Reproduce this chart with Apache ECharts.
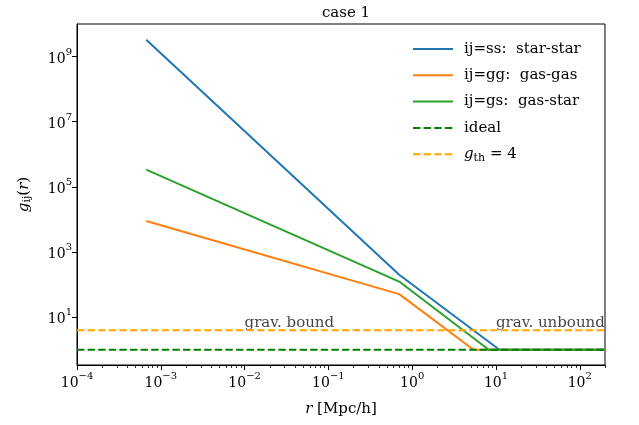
<!DOCTYPE html>
<html><head><meta charset="utf-8">
<script src="https://cdn.jsdelivr.net/npm/echarts@6/dist/echarts.min.js"></script>
<style>html,body{margin:0;padding:0;background:#fff}#c{width:639px;height:425px}</style>
</head><body><div id="c"></div>
<script>
// ---- data ----
const r_ss = [6.7e-4, 0.7, 11, 200];
const g_ss = [3.3e9, 200, 1, 1];
const r_gg = [6.7e-4, 0.7, 5.4, 200];
const g_gg = [9000, 51, 1, 1];
const r_gs = [6.7e-4, 0.7, 8.2, 200];
const g_gs = [3.4e5, 124, 1, 1];
const r_line = [1e-4, 200];
const g_ideal = [1, 1];
const g_th = [4, 4];
const xMajorTicks = [1e-4, 1e-3, 1e-2, 1e-1, 1, 10, 100];
const yMajorTicks = [10, 1e3, 1e5, 1e7, 1e9];
const seriesNames = ['ij=ss:  star-star', 'ij=gg:  gas-gas', 'ij=gs:  gas-star', 'ideal', 'g_th = 4'];
const annotations = [{x: 0.01, y: 4, text: 'grav. bound'}, {x: 10, y: 4, text: 'grav. unbound'}];

const xMinorTicks = [];
for (let d = -4; d <= 2; d++) for (let k = 2; k <= 9; k++) { const v = k * Math.pow(10, d); if (v <= 200) xMinorTicks.push(v); }

const zip = (xs, ys) => xs.map((x, i) => [x, ys[i]]);
const FONT = 'DejaVu Serif';
const FS = 15;
const supFmt = v => { const e = Math.round(Math.log10(v)); return '{b|10}{s|' + (e < 0 ? '\u2212' + (-e) : e) + '}'; };
const supRich = { b: { fontSize: 14, fontFamily: FONT, color: '#000', lineHeight: 19, verticalAlign: 'bottom' }, s: { fontSize: 10, fontFamily: FONT, color: '#000', lineHeight: 19, verticalAlign: 'top' } };

const chart = echarts.init(document.getElementById('c'), null, { renderer: 'canvas' });
const lw = 2;
const dash = [7.4, 3.2];
chart.setOption({
  animation: false,
  backgroundColor: '#fff',
  title: { text: 'case 1', left: 341, top: 1, textAlign: 'center', textStyle: { fontFamily: FONT, fontSize: FS, fontWeight: 'normal', color: '#000' } },
  grid: { left: 77, right: 34, top: 24, bottom: 60, show: true, borderColor: '#000', borderWidth: 1, backgroundColor: 'transparent' },
  legend: {
    orient: 'vertical', left: 412, top: 40, padding: 0, itemWidth: 40, itemHeight: 14, itemGap: 8.3,
    itemStyle: { opacity: 0 },
    textStyle: { fontFamily: FONT, fontSize: FS, color: '#000', lineHeight: 18, padding: [0, 0, 0, 6],
      rich: { i: { fontFamily: FONT, fontStyle: 'italic', fontSize: FS }, sub: { fontFamily: FONT, fontSize: 11, verticalAlign: 'bottom', padding: [6, 0, 0, 0] }, n: { fontFamily: FONT, fontSize: FS } } },
    formatter: n => n === 'g_th = 4' ? '{i|g}{sub|th}{n| = 4}' : n,
    data: seriesNames
  },
  xAxis: [{
    type: 'log', min: 1e-4, max: 200, logBase: 10,
    name: '{i|r} [Mpc/h]', nameLocation: 'middle', nameGap: 37,
    nameTextStyle: { fontFamily: FONT, fontSize: FS, color: '#000', rich: { i: { fontStyle: 'italic', fontFamily: FONT, fontSize: FS }, n: { fontFamily: FONT, fontSize: FS } } },
    axisLine: { show: true, lineStyle: { color: '#000', width: 1 } },
    axisTick: { show: true, length: 5, lineStyle: { color: '#000', width: 1 }, customValues: xMajorTicks },
    axisLabel: { customValues: xMajorTicks, formatter: supFmt, rich: supRich, margin: 6 },
    splitLine: { show: false }, minorTick: { show: false }
  }, {
    type: 'log', min: 1e-4, max: 200, position: 'bottom', gridIndex: 0,
    axisLine: { show: false },
    axisTick: { show: true, length: 3, lineStyle: { color: '#000', width: 0.8 }, customValues: xMinorTicks },
    axisLabel: { show: false }, splitLine: { show: false }
  }],
  yAxis: {
    type: 'log', min: 0.34, max: 1e10,
    name: '{i|g}{sub|ij}{n|(}{i|r}{n|)}', nameLocation: 'middle', nameGap: 44,
    nameTextStyle: { fontFamily: FONT, fontSize: FS, color: '#000', rich: { i: { fontStyle: 'italic', fontFamily: FONT, fontSize: FS }, sub: { fontFamily: FONT, fontSize: 11, verticalAlign: 'bottom', padding: [6, 0, 0, 0] }, n: { fontFamily: FONT, fontSize: FS } } },
    axisLine: { show: true, lineStyle: { color: '#000', width: 1 } },
    axisTick: { show: true, length: 5, lineStyle: { color: '#000', width: 1 }, customValues: yMajorTicks },
    axisLabel: { customValues: yMajorTicks, formatter: supFmt, rich: supRich, margin: 5 },
    splitLine: { show: false }
  },
  series: [
    { name: seriesNames[0], type: 'line', data: zip(r_ss, g_ss), symbol: 'none', lineStyle: { color: '#1f77b4', width: lw }, itemStyle: { color: '#1f77b4' } },
    { name: seriesNames[1], type: 'line', data: zip(r_gg, g_gg), symbol: 'none', lineStyle: { color: '#ff7f0e', width: lw }, itemStyle: { color: '#ff7f0e' } },
    { name: seriesNames[2], type: 'line', data: zip(r_gs, g_gs), symbol: 'none', lineStyle: { color: '#2ca02c', width: lw }, itemStyle: { color: '#2ca02c' } },
    { name: seriesNames[3], type: 'line', data: zip(r_line, g_ideal), symbol: 'none', lineStyle: { color: '#008000', width: lw, type: dash }, itemStyle: { color: '#008000' } },
    { name: seriesNames[4], type: 'line', data: zip(r_line, g_th), symbol: 'none', lineStyle: { color: '#ffa500', width: lw, type: dash }, itemStyle: { color: '#ffa500' } },
    { type: 'scatter', data: annotations.map(a => ({ value: [a.x, a.y], name: a.text })), symbolSize: 0, silent: true,
      label: { show: true, formatter: p => p.name, position: [0, 0], align: 'left', verticalAlign: 'bottom', fontFamily: FONT, fontSize: FS, color: '#111' } }
  ]
});
</script></body></html>
